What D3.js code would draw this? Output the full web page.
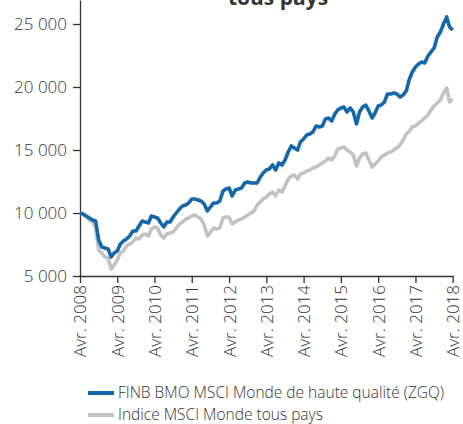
<!DOCTYPE html>
<html>
<head>
<meta charset="utf-8">
<script src="https://cdn.jsdelivr.net/npm/d3@7"></script>
<style>
  body { margin: 0; background: #fff; }
  svg text { font-family: "Open Sans", "Liberation Sans", sans-serif; fill: #333; }
</style>
</head>
<body>
<svg id="chart" width="463" height="424"></svg>
<script>
// monthly values, Apr 2008 -> Apr 2018 (growth of 10 000)
const zgq = [
  10000, 9920, 9760, 9600, 9445, 9365, 7860, 7300, 7220, 7145,
  6510, 6825, 6985, 7540, 7780, 7935, 8175, 8570, 8570, 8970,
  9365, 9285, 9205, 9760, 9685, 9600, 9205, 8890, 9285, 9285,
  9685, 10000, 10320, 10555, 10635, 10795, 11110, 11110, 11030, 10955,
  10715, 10160, 10475, 10795, 10795, 10955, 11745, 11905, 11985, 11350,
  11825, 11905, 11985, 12380, 12460, 12380, 12380, 12380, 12860, 13175,
  13415, 13495, 13810, 13415, 13970, 13810, 14205, 14840, 15320, 15160,
  15000, 15635, 15875, 16190, 16270, 16430, 16905, 16825, 16905, 17460,
  17540, 17300, 17860, 18175, 18335, 18415, 18015, 18335, 18015, 17065,
  18015, 18415, 18570, 18095, 17540, 17935, 18495, 18570, 18810, 19445,
  19445, 19525, 19445, 19205, 19365, 19685, 20635, 21190, 21590, 21825,
  21985, 21905, 22460, 22780, 23095, 23970, 24365, 25000, 25560, 24765,
  24525
];
const msciAcwi = [
  10000, 9920, 9685, 9445, 9285, 8810, 7065, 6825, 6510, 6430,
  5555, 5875, 6270, 6825, 6985, 7380, 7540, 7700, 8015, 7935,
  8255, 8335, 8175, 8730, 8890, 8810, 8255, 8015, 8335, 8415,
  8490, 8810, 9125, 9285, 9525, 9600, 9760, 9840, 9685, 9525,
  9050, 8175, 8490, 8810, 8730, 8810, 9600, 9685, 9685, 9125,
  9285, 9445, 9525, 9685, 9840, 10000, 10160, 10635, 10875, 11110,
  11270, 11510, 11665, 11350, 11825, 11665, 12145, 12700, 12935, 13015,
  12700, 13095, 13175, 13335, 13415, 13570, 13650, 13810, 13970, 14130,
  14365, 14205, 14525, 15080, 15160, 15240, 15000, 14840, 14605, 13730,
  14365, 14685, 14765, 14205, 13650, 13890, 14130, 14445, 14605, 14765,
  14840, 15000, 15160, 15400, 15795, 16270, 16510, 16825, 16905, 17145,
  17300, 17540, 17780, 18175, 18495, 18730, 18970, 19525, 19920, 18810,
  19050
];
const yTicks = [5000, 10000, 15000, 20000, 25000];
const xTickYears = [2008, 2009, 2010, 2011, 2012, 2013, 2014, 2015, 2016, 2017, 2018];
const seriesNames = ['FINB BMO MSCI Monde de haute qualité (ZGQ)', 'Indice MSCI Monde tous pays'];
const seriesColors = ['#1467a8', '#c2c2c2'];

const start = new Date(2008, 3, 1);
const dates = zgq.map((d, i) => d3.timeMonth.offset(start, i));

const svg = d3.select('#chart');
const margin = { top: 0, left: 80 };
const plotW = 372.7, plotH = 276;

const x = d3.scaleTime()
  .domain([start, new Date(2018, 3, 1)])
  .range([margin.left, margin.left + plotW]);

const y = d3.scaleLinear()
  .domain([5000, 26905])
  .range([plotH, 0]);

const fmt = d => d3.format(',')(d).replace(',', ' ');

// title (only its second line shows in the frame)
svg.append('text')
  .attr('x', 278).attr('y', 5)
  .attr('text-anchor', 'middle')
  .style('font-size', '21px').style('font-weight', 'bold')
  .text('tous pays');

// y axis
const yAxis = svg.append('g')
  .attr('transform', `translate(${margin.left},0)`)
  .call(d3.axisLeft(y).tickValues(yTicks).tickFormat(fmt).tickSize(7).tickPadding(6).tickSizeOuter(0));

// x axis
const xAxis = svg.append('g')
  .attr('transform', `translate(0,${plotH})`)
  .call(d3.axisBottom(x)
    .tickValues(xTickYears.map(yr => new Date(yr, 3, 1)))
    .tickFormat(d => 'Avr. ' + d.getFullYear())
    .tickSize(7).tickSizeOuter(0));

xAxis.selectAll('text')
  .attr('transform', 'rotate(-90)')
  .attr('text-anchor', 'end')
  .attr('x', -9).attr('y', 0).attr('dy', '0.35em');

[yAxis, xAxis].forEach(ax => {
  ax.selectAll('path, line').attr('stroke', '#333').attr('stroke-width', 1.3);
  ax.selectAll('text').style('font-size', '17px').style('font-weight', 300).attr('fill', '#333');
});

// lines
const line = d3.line()
  .x((d, i) => x(dates[i]))
  .y(d => y(d));

[msciAcwi, zgq].forEach((s, i) => {
  svg.append('path')
    .datum(s)
    .attr('fill', 'none')
    .attr('stroke', seriesColors[1 - i])
    .attr('stroke-width', 3.6)
    .attr('stroke-linejoin', 'round')
    .attr('d', line);
});

// legend
const legend = svg.append('g');
seriesNames.forEach((name, i) => {
  const ly = 393 + i * 22;
  legend.append('line')
    .attr('x1', 88).attr('x2', 114)
    .attr('y1', ly).attr('y2', ly)
    .attr('stroke', seriesColors[i]).attr('stroke-width', 4);
  legend.append('text')
    .attr('x', 118).attr('y', ly).attr('dy', '0.35em')
    .style('font-size', '15.5px').style('font-weight', 300)
    .text(name);
});
</script>
</body>
</html>
